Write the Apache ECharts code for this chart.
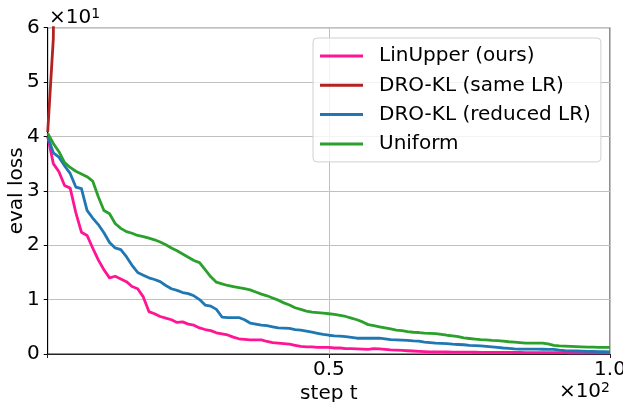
<!DOCTYPE html>
<html>
<head>
<meta charset="utf-8">
<script src="https://cdn.jsdelivr.net/npm/echarts@6/dist/echarts.min.js"></script>
<style>html,body{margin:0;padding:0;background:#fff;}#c{width:623px;height:402px;}</style>
</head>
<body>
<div id="c"></div>
<script>
var seriesNames = ['LinUpper (ours)', 'DRO-KL (same LR)', 'DRO-KL (reduced LR)', 'Uniform'];
var yTicks = ['0','1','2','3','4','5','6'];
var xTicks = {50: '0.5', 100: '1.0'};

var linUpper = [40.0,35.0,33.5,31.0,30.5,26.0,22.4,21.8,19.5,17.3,15.5,14.0,14.3,13.8,13.3,12.4,12.0,10.5,7.8,7.4,
  6.9,6.6,6.3,5.8,5.9,5.5,5.3,4.8,4.5,4.3,3.9,3.7,3.5,3.1,2.8,2.7,2.6,2.6,2.6,2.3,
  2.1,2.0,1.9,1.8,1.6,1.4,1.3,1.3,1.2,1.2,1.2,1.1,1.1,1.0,1.0,0.95,0.9,0.86,1.0,0.95,
  0.85,0.75,0.7,0.65,0.6,0.55,0.5,0.45,0.4,0.4,0.38,0.37,0.36,0.35,0.34,0.33,0.32,0.31,0.3,0.3,
  0.3,0.29,0.29,0.28,0.28,0.27,0.27,0.26,0.26,0.25,0.25,0.24,0.24,0.23,0.23,0.22,0.22,0.21,0.21,0.2,0.2];
var droSame = [40.8,58.0,200.0,400.0];
var droReduced = [40.0,37.0,36.2,34.6,33.2,30.7,30.4,26.4,25.0,23.8,22.3,20.5,19.5,19.2,17.9,16.3,15.0,14.5,14.0,13.7,
  13.3,12.6,12.0,11.7,11.3,11.1,10.7,10.0,9.0,8.8,8.2,6.8,6.7,6.7,6.7,6.3,5.7,5.5,5.3,5.2,
  5.0,4.8,4.75,4.7,4.5,4.4,4.2,4.0,3.8,3.6,3.45,3.35,3.3,3.2,3.05,2.9,2.9,2.9,2.9,2.9,
  2.8,2.65,2.6,2.55,2.5,2.4,2.35,2.2,2.1,2.0,1.95,1.9,1.8,1.75,1.7,1.6,1.55,1.5,1.4,1.3,
  1.2,1.1,1.05,0.95,0.9,0.9,0.9,0.88,0.87,0.86,0.85,0.7,0.6,0.58,0.55,0.52,0.5,0.48,0.45,0.42,0.4];
var uniform = [40.6,38.7,37.2,35.2,34.3,33.6,33.1,32.6,31.8,28.9,26.4,25.8,24.0,23.1,22.5,22.2,21.8,21.6,21.3,21.0,
  20.6,20.1,19.5,19.0,18.4,17.8,17.2,16.8,15.5,14.2,13.2,12.9,12.6,12.4,12.2,12.0,11.8,11.4,11.0,10.7,
  10.3,9.9,9.4,9.0,8.5,8.2,7.9,7.7,7.6,7.5,7.4,7.3,7.1,6.9,6.6,6.3,5.9,5.4,5.2,5.0,
  4.8,4.6,4.4,4.3,4.1,4.0,3.95,3.85,3.8,3.75,3.6,3.45,3.35,3.2,2.95,2.85,2.75,2.65,2.6,2.5,
  2.45,2.35,2.25,2.2,2.1,2.0,2.0,2.0,2.0,1.85,1.6,1.5,1.45,1.4,1.35,1.3,1.25,1.25,1.2,1.2,1.2];

var colors = ['#ff1493', '#b22222', '#1f77b4', '#2ca02c'];
var FONT = 'DejaVu Sans';
var FS = 20;

function pairs(arr) { return arr.map(function (v, i) { return [i, v]; }); }
var allData = [linUpper, droSame, droReduced, uniform];
var sciRich = {a: {fontSize: FS, fontFamily: FONT, fill: '#000'}, s: {fontSize: 14, fontFamily: FONT, fill: '#000', verticalAlign: 'top', padding: [0, 0, 8, 0]}};

var chart = echarts.init(document.getElementById('c'), null, {renderer: 'canvas'});
chart.setOption({
  animation: false,
  backgroundColor: '#fff',
  textStyle: {fontFamily: FONT},
  grid: {left: 47.7, right: 13, top: 27.7, bottom: 48, containLabel: false, outerBoundsMode: 'none',
    show: true, borderColor: '#222', borderWidth: 1, backgroundColor: 'transparent'},
  xAxis: {
    type: 'value', min: 0, max: 100, interval: 50,
    name: 'step t', nameLocation: 'middle', nameGap: 30, nameMoveOverlap: false,
    nameTextStyle: {fontSize: FS, color: '#000', fontFamily: FONT},
    axisLine: {show: true, onZero: false, lineStyle: {color: '#222', width: 1}},
    axisTick: {show: true, length: 4, lineStyle: {color: '#222'}},
    axisLabel: {fontSize: FS, color: '#000', margin: 6, fontFamily: FONT,
      formatter: function (v) { return xTicks[v] || ''; }},
    splitLine: {show: true, lineStyle: {color: '#c0c0c0', width: 1}}
  },
  yAxis: {
    type: 'value', min: 0, max: 60, interval: 10,
    name: 'eval loss', nameLocation: 'middle', nameGap: 21, nameRotate: 90, nameMoveOverlap: false,
    nameTextStyle: {fontSize: FS, color: '#000', fontFamily: FONT},
    axisLine: {show: true, onZero: false, lineStyle: {color: '#000', width: 1}},
    axisTick: {show: true, length: 4, lineStyle: {color: '#000'}},
    axisLabel: {fontSize: FS, color: '#000', margin: 8, fontFamily: FONT,
      formatter: function (v) { return yTicks[Math.round(v / 10)]; }},
    splitLine: {show: true, lineStyle: {color: '#c0c0c0', width: 1}}
  },
  legend: {
    orient: 'vertical', left: 313, top: 38,
    padding: [7, 10, 7, 7],
    itemWidth: 43, itemHeight: 3, itemGap: 7.3,
    icon: 'rect',
    backgroundColor: 'rgba(255,255,255,0.8)',
    borderColor: '#d0d0d0', borderWidth: 1, borderRadius: 4,
    textStyle: {fontSize: FS, color: '#000', fontFamily: FONT, lineHeight: 22, padding: [0, 0, 0, 11]},
    data: seriesNames
  },
  graphic: [
    {type: 'text', left: 49, top: 7, style: {text: '{a|×10}{s|1}', rich: sciRich}},
    {type: 'text', right: 13, top: 381, style: {text: '{a|×10}{s|2}', rich: sciRich}}
  ],
  series: seriesNames.map(function (n, k) {
    return {
      name: n, type: 'line', data: pairs(allData[k]), showSymbol: false, symbol: 'none',
      clip: true, z: 2 + k,
      lineStyle: {color: colors[k], width: 2.8, join: 'round'},
      itemStyle: {color: colors[k]}
    };
  })
});
</script>
</body>
</html>
